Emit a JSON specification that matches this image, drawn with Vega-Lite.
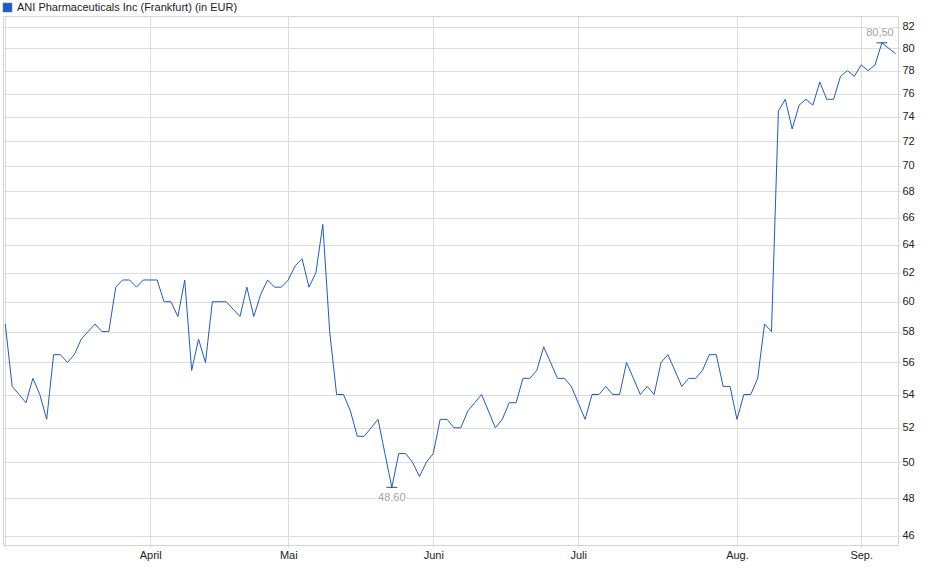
{
  "$schema": "https://vega.github.io/schema/vega-lite/v6.json",
  "width": 895,
  "height": 529,
  "autosize": "none",
  "padding": {"left": 3, "top": 16, "right": 42, "bottom": 34},
  "background": "white",
  "config": {
    "font": "Liberation Sans",
    "locale": {"number": {"decimal": ",", "thousands": ".", "grouping": [3], "currency": ["", " €"]}},
    "view": {"stroke": "#d4d4d4", "strokeWidth": 1},
    "axis": {
      "gridColor": "#dcdcdc",
      "gridWidth": 1,
      "domain": false,
      "tickColor": "#d4d4d4",
      "tickSize": 2,
      "labelPadding": 2,
      "labelFont": "Liberation Sans",
      "labelFontSize": 11,
      "labelColor": "#222222",
      "labelOverlap": false,
      "title": null
    }
  },
  "datasets": {
    "kurs": [
      {"i": 0, "close": 58.5}, {"i": 1, "close": 54.5}, {"i": 2, "close": 54.0}, {"i": 3, "close": 53.5},
      {"i": 4, "close": 55.0}, {"i": 5, "close": 54.0}, {"i": 6, "close": 52.5}, {"i": 7, "close": 56.5},
      {"i": 8, "close": 56.5}, {"i": 9, "close": 56.0}, {"i": 10, "close": 56.5}, {"i": 11, "close": 57.5},
      {"i": 12, "close": 58.0}, {"i": 13, "close": 58.5}, {"i": 14, "close": 58.0}, {"i": 15, "close": 58.0},
      {"i": 16, "close": 61.0}, {"i": 17, "close": 61.5}, {"i": 18, "close": 61.5}, {"i": 19, "close": 61.0},
      {"i": 20, "close": 61.5}, {"i": 21, "close": 61.5}, {"i": 22, "close": 61.5}, {"i": 23, "close": 60.0},
      {"i": 24, "close": 60.0}, {"i": 25, "close": 59.0}, {"i": 26, "close": 61.5}, {"i": 27, "close": 55.5},
      {"i": 28, "close": 57.5}, {"i": 29, "close": 56.0}, {"i": 30, "close": 60.0}, {"i": 31, "close": 60.0},
      {"i": 32, "close": 60.0}, {"i": 33, "close": 59.5}, {"i": 34, "close": 59.0}, {"i": 35, "close": 61.0},
      {"i": 36, "close": 59.0}, {"i": 37, "close": 60.5}, {"i": 38, "close": 61.5}, {"i": 39, "close": 61.0},
      {"i": 40, "close": 61.0}, {"i": 41, "close": 61.5}, {"i": 42, "close": 62.5}, {"i": 43, "close": 63.0},
      {"i": 44, "close": 61.0}, {"i": 45, "close": 62.0}, {"i": 46, "close": 65.5}, {"i": 47, "close": 58.0},
      {"i": 48, "close": 54.0}, {"i": 49, "close": 54.0}, {"i": 50, "close": 53.0}, {"i": 51, "close": 51.5},
      {"i": 52, "close": 51.5}, {"i": 53, "close": 52.0}, {"i": 54, "close": 52.5}, {"i": 55, "close": 50.5},
      {"i": 56, "close": 48.6}, {"i": 57, "close": 50.5}, {"i": 58, "close": 50.5}, {"i": 59, "close": 50.0},
      {"i": 60, "close": 49.2}, {"i": 61, "close": 50.0}, {"i": 62, "close": 50.5}, {"i": 63, "close": 52.5},
      {"i": 64, "close": 52.5}, {"i": 65, "close": 52.0}, {"i": 66, "close": 52.0}, {"i": 67, "close": 53.0},
      {"i": 68, "close": 53.5}, {"i": 69, "close": 54.0}, {"i": 70, "close": 53.0}, {"i": 71, "close": 52.0},
      {"i": 72, "close": 52.5}, {"i": 73, "close": 53.5}, {"i": 74, "close": 53.5}, {"i": 75, "close": 55.0},
      {"i": 76, "close": 55.0}, {"i": 77, "close": 55.5}, {"i": 78, "close": 57.0}, {"i": 79, "close": 56.0},
      {"i": 80, "close": 55.0}, {"i": 81, "close": 55.0}, {"i": 82, "close": 54.5}, {"i": 83, "close": 53.5},
      {"i": 84, "close": 52.5}, {"i": 85, "close": 54.0}, {"i": 86, "close": 54.0}, {"i": 87, "close": 54.5},
      {"i": 88, "close": 54.0}, {"i": 89, "close": 54.0}, {"i": 90, "close": 56.0}, {"i": 91, "close": 55.0},
      {"i": 92, "close": 54.0}, {"i": 93, "close": 54.5}, {"i": 94, "close": 54.0}, {"i": 95, "close": 56.0},
      {"i": 96, "close": 56.5}, {"i": 97, "close": 55.5}, {"i": 98, "close": 54.5}, {"i": 99, "close": 55.0},
      {"i": 100, "close": 55.0}, {"i": 101, "close": 55.5}, {"i": 102, "close": 56.5}, {"i": 103, "close": 56.5},
      {"i": 104, "close": 54.5}, {"i": 105, "close": 54.5}, {"i": 106, "close": 52.5}, {"i": 107, "close": 54.0},
      {"i": 108, "close": 54.0}, {"i": 109, "close": 55.0}, {"i": 110, "close": 58.5}, {"i": 111, "close": 58.0},
      {"i": 112, "close": 74.5}, {"i": 113, "close": 75.5}, {"i": 114, "close": 73.0}, {"i": 115, "close": 75.0},
      {"i": 116, "close": 75.5}, {"i": 117, "close": 75.0}, {"i": 118, "close": 77.0}, {"i": 119, "close": 75.5},
      {"i": 120, "close": 75.5}, {"i": 121, "close": 77.5}, {"i": 122, "close": 78.0}, {"i": 123, "close": 77.5},
      {"i": 124, "close": 78.5}, {"i": 125, "close": 78.0}, {"i": 126, "close": 78.5}, {"i": 127, "close": 80.5},
      {"i": 128, "close": 80.0}, {"i": 129, "close": 79.5}
    ]
  },
  "data": {"name": "kurs"},
  "encoding": {
    "x": {
      "field": "i",
      "type": "quantitative",
      "scale": {"domain": [-0.33, 129.33], "nice": false, "zero": false},
      "axis": {
        "values": [0, 21, 41, 62, 83, 106, 124],
        "labelExpr": "datum.value == 21 ? 'April' : datum.value == 41 ? 'Mai' : datum.value == 62 ? 'Juni' : datum.value == 83 ? 'Juli' : datum.value == 106 ? 'Aug.' : datum.value == 124 ? 'Sep.' : ''",
        "labelFlush": false
      }
    },
    "y": {
      "field": "close",
      "type": "quantitative",
      "scale": {"type": "log", "domain": [45.52, 82.99], "nice": false, "zero": false},
      "axis": {
        "orient": "right",
        "values": [46, 48, 50, 52, 54, 56, 58, 60, 62, 64, 66, 68, 70, 72, 74, 76, 78, 80, 82],
        "format": "d"
      }
    }
  },
  "layer": [
    {
      "mark": {"type": "line", "strokeWidth": 1, "interpolate": "linear"},
      "encoding": {
        "color": {
          "datum": "ANI Pharmaceuticals Inc (Frankfurt) (in EUR)",
          "scale": {"range": ["#1f5bc6"]},
          "legend": {
            "title": null,
            "orient": "none",
            "legendX": -1,
            "legendY": -14,
            "padding": 0,
            "symbolType": "square",
            "symbolSize": 72,
            "labelOffset": 4,
            "labelLimit": 0,
            "labelFont": "Liberation Sans",
            "labelFontSize": 11,
            "labelColor": "#222222",
            "encode": {
              "symbols": {
                "update": {
                  "fill": {"value": "#1f5bc6"},
                  "stroke": {"value": "#1b2f6b"},
                  "strokeWidth": {"value": 1}
                }
              }
            }
          }
        }
      }
    },
    {
      "transform": [
        {"joinaggregate": [{"op": "max", "field": "close", "as": "hi"}]},
        {"filter": "datum.close == datum.hi"}
      ],
      "layer": [
        {"mark": {"type": "tick", "orient": "horizontal", "color": "black", "size": 11, "thickness": 1}},
        {
          "mark": {"type": "text", "dx": -2, "dy": -10, "fontSize": 11, "stroke": "white", "strokeWidth": 3, "color": "white"},
          "encoding": {"text": {"field": "close", "type": "quantitative", "format": ".2f"}}
        },
        {
          "mark": {"type": "text", "dx": -2, "dy": -10, "fontSize": 11, "color": "#a3a3a3"},
          "encoding": {"text": {"field": "close", "type": "quantitative", "format": ".2f"}}
        }
      ]
    },
    {
      "transform": [
        {"joinaggregate": [{"op": "min", "field": "close", "as": "lo"}]},
        {"filter": "datum.close == datum.lo"}
      ],
      "layer": [
        {"mark": {"type": "tick", "orient": "horizontal", "color": "black", "size": 11, "thickness": 1}},
        {
          "mark": {"type": "text", "dy": 11, "fontSize": 11, "stroke": "white", "strokeWidth": 3, "color": "white"},
          "encoding": {"text": {"field": "close", "type": "quantitative", "format": ".2f"}}
        },
        {
          "mark": {"type": "text", "dy": 11, "fontSize": 11, "color": "#a3a3a3"},
          "encoding": {"text": {"field": "close", "type": "quantitative", "format": ".2f"}}
        }
      ]
    }
  ]
}
